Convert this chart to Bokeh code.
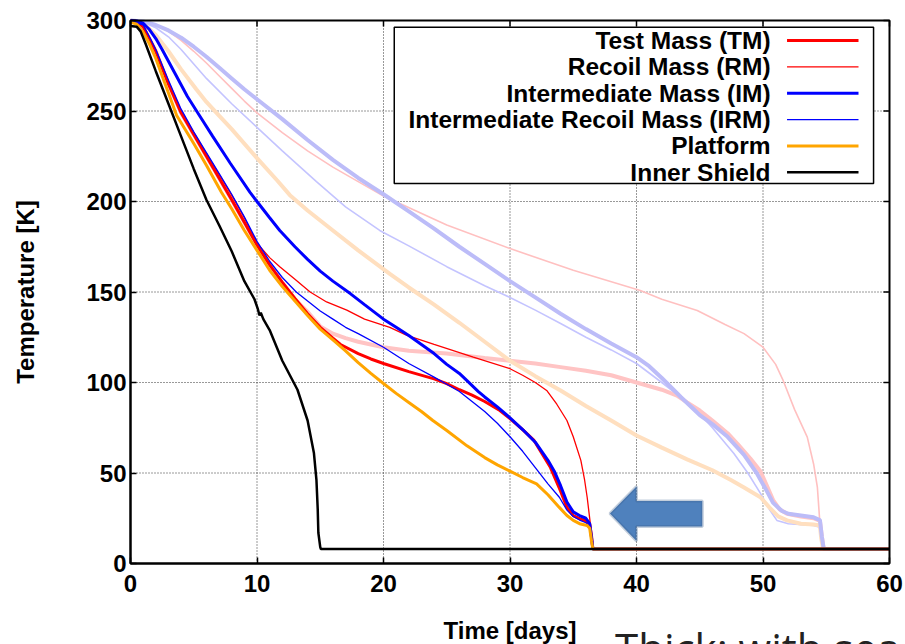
from bokeh.plotting import figure
from bokeh.models import Range1d, Label, PolyAnnotation, FixedTicker
from bokeh.core.properties import value
from bokeh.embed import file_html
from bokeh.resources import INLINE

# ---------------- data (days, K) ----------------
tm_x = [0, 0.5, 1, 1.5, 2, 3, 4, 5, 6, 7, 8, 9, 10, 11, 12, 12.6, 13, 14, 15, 16, 16.6, 18, 19, 20, 22, 24, 25, 26, 27, 28, 29.2, 30, 31, 31.9, 32.5, 33.2, 34, 34.5, 35, 35.5, 36, 36.3, 36.45, 36.55, 60]
tm_y = [300, 299.5, 296.5, 290, 283, 265, 249, 237, 225, 213, 201, 188.5, 176, 165, 155.5, 150, 146.5, 138, 130.5, 124.5, 121, 116, 113, 110.5, 106, 102, 99.4, 96, 93, 89.5, 84.5, 80, 74, 68, 61, 53, 40, 31, 26.5, 24.8, 23.5, 22, 15, 8, 8]

rm_x = [0, 1, 1.5, 2, 3, 4, 5, 6, 7, 8, 9, 10, 11, 11.8, 13, 14.2, 15.5, 17.1, 18.5, 20.5, 21.85, 24, 27.1, 30, 31, 32, 32.9, 33.7, 34.5, 35, 35.6, 35.9, 36.1, 36.35, 36.45, 36.55, 60]
rm_y = [300, 297, 290, 283, 266, 250, 238, 226.5, 215, 203.5, 191, 177, 169, 164, 157, 150, 144.5, 140, 135, 130.5, 126, 121, 114, 107.6, 104, 100, 95.6, 88, 79, 70, 57, 46, 36.6, 22, 14, 8, 8]

im_x = [0, 0.5, 1, 1.5, 2, 2.5, 3.5, 4.5, 5.5, 6.5, 7.9, 9.45, 10, 11, 11.8, 13, 14, 15, 16, 17.4, 18.5, 20, 21, 22, 23, 24, 25, 26, 26.6, 27.5, 28, 29, 30, 31, 32, 33, 33.5, 34, 34.5, 35, 35.5, 36, 36.3, 36.45, 36.55, 60]
im_y = [300, 299.7, 298.5, 295, 290, 284, 271, 258, 247, 236, 221, 205, 200, 191, 184, 175, 168, 161.5, 156, 149, 143, 135, 130.5, 126, 121, 116, 110, 105, 101, 95, 92, 86.5, 80.5, 74, 67, 57, 51, 43, 34, 28.5, 26.5, 25, 22, 14, 8, 8]

irm_x = [0, 1, 1.5, 2, 3, 4, 5, 6, 7, 8, 9, 10, 11, 12, 13.1, 14, 15, 16, 17, 18, 20, 22, 24, 25, 26, 27, 28, 29, 30, 31, 32, 33, 33.9, 34.5, 35, 35.5, 36, 36.3, 36.45, 36.55, 60]
irm_y = [300, 297.5, 291, 284, 267, 251, 238.5, 227, 215.5, 204, 191.5, 178, 167, 158, 150, 145, 139.5, 135, 130.5, 127, 119.5, 110.5, 103, 99, 95, 89.5, 84, 77.5, 70, 62, 53, 44, 36.6, 29.5, 26, 24, 22.5, 20.5, 13, 8, 8]

pf_x = [0, 0.5, 1, 1.5, 2, 3, 3.65, 5, 6, 7.2, 8, 9, 10, 11, 12, 13, 14, 15, 16, 17, 18, 19, 19.9, 21, 22, 23, 23.9, 25, 26.6, 28, 29, 30, 31, 32.1, 33, 33.9, 34.5, 35, 35.5, 36.1, 36.3, 36.45, 36.55, 60]
pf_y = [299, 298, 293.5, 287, 279, 260, 247.5, 232, 220, 205, 196, 184, 173, 162, 153, 145, 137, 129.5, 123.5, 117.5, 111, 105, 100, 94, 89, 84, 79, 73.5, 65, 58.5, 54.5, 51, 47.5, 44, 38, 31, 26.5, 23.8, 22, 21, 19.5, 12, 8, 8]

is_x = [0, 0.5, 0.8, 1.2, 2, 3, 4, 5, 6, 7, 8, 9, 9.8, 10.05, 10.2, 10.3, 10.5, 11, 12, 12.6, 13.2, 14, 14.5, 14.7, 14.8, 14.85, 15.0, 15.05, 60]
is_y = [297, 296.5, 294, 287, 272, 254, 236, 218, 201, 187, 172.5, 156, 146, 141, 137, 138.5, 135, 129, 112, 104, 96, 79, 61, 46, 30, 17, 9, 8, 8]

# faded series
tmf_x = [0, 1, 2, 3, 4, 6, 8, 10, 11, 12, 13, 14, 15, 16, 17, 18, 20, 22, 25, 28, 30, 32, 34, 36, 38, 40, 42, 43.2, 44, 45, 46, 47.2, 48, 49, 49.8, 50.3, 50.8, 51.3, 51.9, 53, 54, 54.5, 54.65, 54.8, 60]
tmf_y = [300, 296.5, 283, 265, 249, 225, 201, 176, 165, 154, 146, 139, 131, 127, 124.5, 122.5, 119.5, 117.5, 116, 113.5, 112, 110.5, 108.5, 106.5, 104, 100, 96, 92.8, 89, 84.5, 79, 72, 66, 58, 51, 43, 35, 30, 27.5, 26, 25, 23.5, 15, 8, 8]

rmf_x = [0, 1, 2, 3, 4, 5, 6, 7, 8, 9, 10, 12, 14, 16, 18, 20, 25, 30, 35, 40.3, 42, 44.8, 47, 48.5, 50, 51, 51.6, 52.5, 53.5, 54, 54.3, 54.5, 54.7, 60]
rmf_y = [300, 299.5, 297.5, 294, 289, 283, 276.5, 269.5, 262.5, 255.5, 249, 238, 228, 219, 211, 203, 187, 174, 162, 150.8, 146, 139.8, 132, 127, 119.5, 110, 101, 85, 69.8, 55, 42, 22, 8, 8]

imf_x = [0, 1, 2, 3, 4, 5, 6, 7, 8, 9, 10, 12, 14, 16, 18, 20, 22, 24, 26, 28, 30, 32, 34, 36, 38, 40, 41, 42, 43.5, 45, 46, 47.2, 48.5, 49.5, 50.3, 50.8, 51.5, 52, 53, 54, 54.5, 54.65, 54.8, 60]
imf_y = [300, 299.5, 297.5, 294.5, 290.5, 285.5, 280, 274, 268, 262, 256.5, 245.5, 234, 223, 213, 204, 194.5, 185, 175, 165.5, 156, 147, 138, 129.5, 121.5, 114, 109, 102.5, 92, 82, 77, 70, 60, 50, 40, 33.5, 29, 27.5, 26.5, 25.5, 24, 15, 8, 8]

irmf_x = [0, 1, 2, 3, 4, 6, 8, 10, 12, 14.7, 17, 19.7, 22, 25, 28, 30, 32, 34, 36, 38, 40, 42, 44.5, 46, 47.7, 48.8, 49.8, 50.5, 51.1, 52, 54, 54.5, 54.6, 54.75, 60]
irmf_y = [300, 299, 296, 291, 284, 268, 254, 241, 228, 211, 197, 184, 175.5, 164, 153.5, 147, 140, 132.6, 125, 118, 110.5, 100, 86.4, 75, 60.8, 50, 38.7, 30, 23.8, 22, 21, 20, 14, 8, 8]

pff_x = [0, 1, 2, 3, 4, 5.2, 6, 7, 8, 10, 11.6, 12.6, 14, 16, 18, 20.5, 22, 24, 26, 28, 30, 32, 34, 36, 38, 40, 42, 44, 46, 47.5, 48.5, 49.8, 50.5, 51.2, 51.9, 53, 54, 54.5, 54.6, 54.75, 60]
pff_y = [300, 298.5, 292, 283, 273, 262, 255, 247.5, 240, 224, 211.6, 203.5, 195, 184, 173, 160, 152.5, 143, 133, 122.5, 112, 103.5, 95.6, 87, 79, 70.7, 64, 57.5, 51.5, 46, 42, 36.6, 31, 26, 23.8, 22, 21.5, 21, 14, 8, 8]

legend_labels = ["Test Mass (TM)", "Recoil Mass (RM)", "Intermediate Mass (IM)",
                 "Intermediate Recoil Mass (IRM)", "Platform", "Inner Shield"]
x_ticks = [0, 10, 20, 30, 40, 50, 60]
y_ticks = [0, 50, 100, 150, 200, 250, 300]
X_MIN, X_MAX, Y_MIN, Y_MAX = 0, 60, 0, 300

# arrow annotation (data units)
arrow_x = [37.9, 40.0, 40.0, 45.2, 45.2, 40.0, 40.0]
arrow_y = [27.6, 42.5, 34.5, 34.5, 20.4, 20.4, 12.5]

FONT = "Liberation Sans"
W, H = 905, 644
PL, PT, PR, PB = 130, 20, 889, 563        # plot box edges in px
sx = (PR - PL) / (X_MAX - X_MIN)           # px per day
sy = (PB - PT) / (Y_MAX - Y_MIN)           # px per K

# The frame covers the whole canvas (so that the caption, cut by the page edge,
# can be drawn); both axes are pinned at the data origin.
p = figure(width=W, height=H,
           x_range=Range1d(X_MIN - PL / sx, X_MAX + (W - PR) / sx),
           y_range=Range1d(Y_MIN - (H - PB) / sy, Y_MAX + PT / sy),
           output_backend="svg", toolbar_location=None,
           min_border_left=0, min_border_right=0, min_border_top=0, min_border_bottom=0)
p.outline_line_color = None
p.background_fill_color = "white"
p.border_fill_color = "white"
p.xgrid.visible = False
p.ygrid.visible = False

for ax in (p.xaxis[0], p.yaxis[0]):
    ax.major_tick_in = 6
    ax.major_tick_out = 0
    ax.minor_tick_line_color = None
    ax.axis_line_width = 2
    ax.major_tick_line_width = 1.5
    ax.major_label_text_font = FONT
    ax.major_label_text_font_style = "bold"
    ax.major_label_text_font_size = "24px"
    ax.major_label_text_color = "black"

p.xaxis.ticker = FixedTicker(ticks=x_ticks)
p.yaxis.ticker = FixedTicker(ticks=y_ticks)
p.xaxis.bounds = (X_MIN, X_MAX)
p.yaxis.bounds = (Y_MIN, Y_MAX)
p.xaxis.fixed_location = Y_MIN
p.yaxis.fixed_location = X_MIN
p.xaxis.major_label_standoff = 11
p.yaxis.major_label_standoff = 4

# axis titles
p.add_layout(Label(x=X_MIN - 105 / sx, y=(Y_MIN + Y_MAX) / 2, text="Temperature [K]",
                   angle=90, angle_units="deg", text_align="center", text_baseline="middle",
                   text_font=FONT, text_font_style="bold", text_font_size="24px",
                   text_color="black"))
p.add_layout(Label(x=(X_MIN + X_MAX) / 2, y=Y_MIN - 67 / sy, text="Time [days]",
                   text_align="center", text_baseline="middle",
                   text_font=FONT, text_font_style="bold", text_font_size="24px",
                   text_color="black"))

# dotted grid
gx = x_ticks[1:-1]
gy = y_ticks[1:-1]
p.segment(x0=gx, y0=[Y_MIN] * len(gx), x1=gx, y1=[Y_MAX] * len(gx),
          line_color="#333333", line_dash="1 2", line_width=1)
p.segment(x0=[X_MIN] * len(gy), y0=gy, x1=[X_MAX] * len(gy), y1=gy,
          line_color="#333333", line_dash="1 2", line_width=1)

# faded curves
p.line(tmf_x, tmf_y, line_color="#ffc4c4", line_width=4)
p.line(rmf_x, rmf_y, line_color="#ffc0c0", line_width=1.6)
p.line(irmf_x, irmf_y, line_color="#c4c4ff", line_width=1.6)
p.line(pff_x, pff_y, line_color="#ffdfbf", line_width=4)
p.line(imf_x, imf_y, line_color="#bcbcf8", line_width=4)

# main curves
styles = [
    (tm_x, tm_y, "#ff0000", 3),
    (rm_x, rm_y, "#ff0000", 1.3),
    (im_x, im_y, "#0000ff", 3),
    (irm_x, irm_y, "#0000ff", 1.3),
    (pf_x, pf_y, "#ffa500", 3),
    (is_x, is_y, "#000000", 2.5),
]
for xs, ys, c, w in styles:
    p.line(xs, ys, line_color=c, line_width=w)

# plot box and mirror ticks on top / right
p.quad(left=[X_MIN], right=[X_MAX], bottom=[Y_MIN], top=[Y_MAX], fill_alpha=0,
       line_color="black", line_width=2)
tick_dy = 6 / sy
tick_dx = 6 / sx
p.segment(x0=x_ticks, y0=[Y_MAX] * len(x_ticks), x1=x_ticks, y1=[Y_MAX - tick_dy] * len(x_ticks),
          line_color="black", line_width=1.5)
p.segment(x0=[X_MAX] * len(y_ticks), y0=y_ticks, x1=[X_MAX - tick_dx] * len(y_ticks), y1=y_ticks,
          line_color="black", line_width=1.5)

# legend box
lx0, lx1, ly0, ly1 = 20.85, 58.74, 210.0, 296.3
p.quad(left=[lx0], right=[lx1], bottom=[ly0], top=[ly1], fill_color="white",
       line_color="black", line_width=1.5)
row_y = [288.9 - 14.55 * i for i in range(len(legend_labels))]
p.text(x=[50.6] * len(legend_labels), y=row_y, text=legend_labels,
       text_font=value(FONT), text_font_style="bold", text_font_size="24.5px",
       text_align="right", text_baseline="middle", text_color="black")
for (xs, ys, c, w), yy in zip(styles, row_y):
    p.segment(x0=[51.9], y0=[yy], x1=[57.55], y1=[yy], line_color=c, line_width=w)

# arrow
p.add_layout(PolyAnnotation(xs=arrow_x, ys=arrow_y, fill_color="#4f81bd", fill_alpha=1,
                            line_color="#385d8a", line_width=3, level="overlay"))

# slide caption (cut off at the bottom edge in the original)
p.add_layout(Label(x=38.3, y=-46.5, text="Thick: with sea",
                   text_font="Open Sans", text_font_size="42px", text_color="#222222",
                   text_baseline="alphabetic"))

open("out.html", "w").write(file_html(p, INLINE))
